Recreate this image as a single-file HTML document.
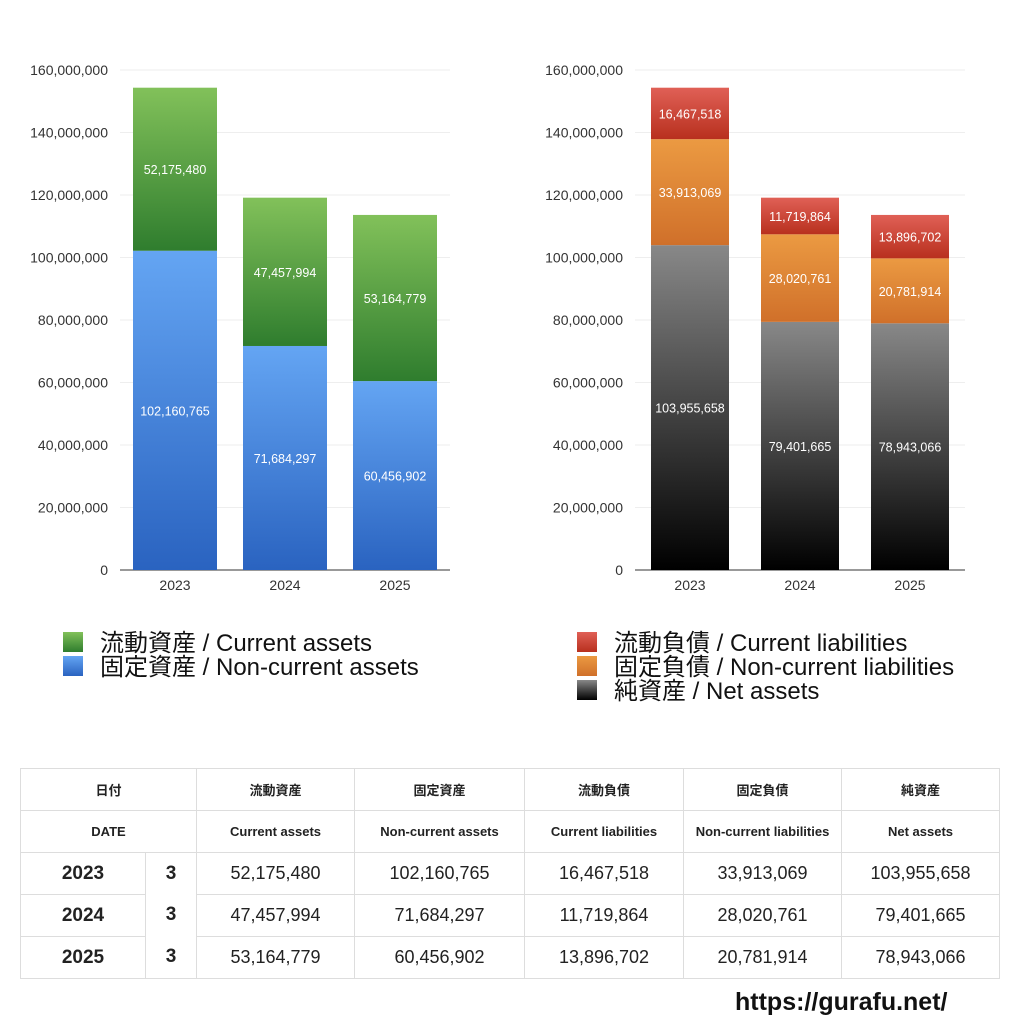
<!DOCTYPE html>
<html><head><meta charset="utf-8"><style>
body{margin:0;background:#fff;font-family:"Liberation Sans","Noto Sans CJK JP",sans-serif}
#wrap{position:relative;width:1024px;height:1024px;overflow:hidden}
table{position:absolute;left:20px;top:768px;border-collapse:collapse;width:980px;table-layout:fixed}
td{border:1px solid #ddd;text-align:center;height:41px;padding:0;color:#222;font-size:18px}
tr.h td{font-size:13px;font-weight:bold}
td.y{font-weight:bold;font-size:19px}
#url{position:absolute;left:735px;top:988px;font-size:25px;font-weight:bold;color:#111}
</style></head><body><div id="wrap">
<svg id="svg" width="1024" height="760" style="position:absolute;left:0;top:0">
<defs>
<linearGradient id="gG" x1="0" y1="0" x2="0" y2="1"><stop offset="0" stop-color="#82c15a"/><stop offset="1" stop-color="#2f7d2e"/></linearGradient>
<linearGradient id="gB" x1="0" y1="0" x2="0" y2="1"><stop offset="0" stop-color="#64a5f3"/><stop offset="1" stop-color="#2a63c0"/></linearGradient>
<linearGradient id="gR" x1="0" y1="0" x2="0" y2="1"><stop offset="0" stop-color="#e06056"/><stop offset="1" stop-color="#b8301e"/></linearGradient>
<linearGradient id="gO" x1="0" y1="0" x2="0" y2="1"><stop offset="0" stop-color="#eb9a42"/><stop offset="1" stop-color="#d0702a"/></linearGradient>
<linearGradient id="gK" x1="0" y1="0" x2="0" y2="1"><stop offset="0" stop-color="#888"/><stop offset="1" stop-color="#000"/></linearGradient>
</defs>
</svg>
<table>
<colgroup><col style="width:125px"><col style="width:51px"><col style="width:158px"><col style="width:170px"><col style="width:159px"><col style="width:158px"><col style="width:158px"></colgroup>
<tr class="h"><td colspan="2">日付</td><td>流動資産</td><td>固定資産</td><td>流動負債</td><td>固定負債</td><td>純資産</td></tr>
<tr class="h"><td colspan="2">DATE</td><td>Current assets</td><td>Non-current assets</td><td>Current liabilities</td><td>Non-current liabilities</td><td>Net assets</td></tr>
<tr><td class="y">2023</td><td class="y" rowspan="3" style="vertical-align:top"><div style="height:41px;line-height:41px">3</div><div style="height:42px;line-height:42px">3</div><div style="height:42px;line-height:42px">3</div></td><td>52,175,480</td><td>102,160,765</td><td>16,467,518</td><td>33,913,069</td><td>103,955,658</td></tr>
<tr><td class="y">2024</td><td>47,457,994</td><td>71,684,297</td><td>11,719,864</td><td>28,020,761</td><td>79,401,665</td></tr>
<tr><td class="y">2025</td><td>53,164,779</td><td>60,456,902</td><td>13,896,702</td><td>20,781,914</td><td>78,943,066</td></tr>
</table>
<div id="url">https://gurafu.net/</div>
</div>
<script>
const years=["2023","2024","2025"];
const currentAssets=[52175480,47457994,53164779];
const nonCurrentAssets=[102160765,71684297,60456902];
const currentLiab=[16467518,11719864,13896702];
const nonCurrentLiab=[33913069,28020761,20781914];
const netAssets=[103955658,79401665,78943066];
const ticks=[0,20000000,40000000,60000000,80000000,100000000,120000000,140000000,160000000];
const svg=document.getElementById('svg');const NS="http://www.w3.org/2000/svg";
function mk(t,a,txt){const e=document.createElementNS(NS,t);for(const k in a)e.setAttribute(k,a[k]);if(txt!==undefined)e.textContent=txt;svg.appendChild(e);return e;}
const fmt=v=>v.toLocaleString('en-US');
function chart(x0,x1,bw,series,fills,name){
 const y=v=>570-v/160000000*500;
 const xc=i=>x0+55+i*110;
 ticks.forEach(t=>{
  const g=mk('line',{x1:x0,x2:x1,y1:y(t),y2:y(t),stroke:t?'#eee':'#333'});
  
  const l=mk('text',{x:x0-12,y:y(t)+5,'text-anchor':'end','font-size':14,fill:'#333'},fmt(t));
  
 });
 years.forEach((yr,i)=>{
  let base=0;
  series.forEach((s,k)=>{
   const v=s[i];
   const r=mk('rect',{x:xc(i)-bw/2,y:y(base+v),width:bw,height:y(base)-y(base+v),fill:fills[k]});
   
   const t=mk('text',{x:xc(i),y:(y(base)+y(base+v))/2+5,'text-anchor':'middle','font-size':12.5,fill:'#fff'},fmt(v));
   
   base+=v;
  });
  const xl=mk('text',{x:xc(i),y:590,'text-anchor':'middle','font-size':14,fill:'#333'},yr);
  
 });
}
chart(120,450,84,[nonCurrentAssets,currentAssets],['url(#gB)','url(#gG)'],'assets-chart');
chart(635,965,78,[netAssets,nonCurrentLiab,currentLiab],['url(#gK)','url(#gO)','url(#gR)'],'liabilities-chart');
function legend(x,yy,fill,label){
 const r=mk('rect',{x:x,y:yy-19,width:20,height:20,fill:fill});
 
 const t=mk('text',{x:x+37,y:yy,'font-size':24,fill:'#111'},label);
 
}
legend(63,651,'url(#gG)','流動資産 / Current assets');
legend(63,675,'url(#gB)','固定資産 / Non-current assets');
legend(577,651,'url(#gR)','流動負債 / Current liabilities');
legend(577,675,'url(#gO)','固定負債 / Non-current liabilities');
legend(577,699,'url(#gK)','純資産 / Net assets');
</script>
</body></html>
